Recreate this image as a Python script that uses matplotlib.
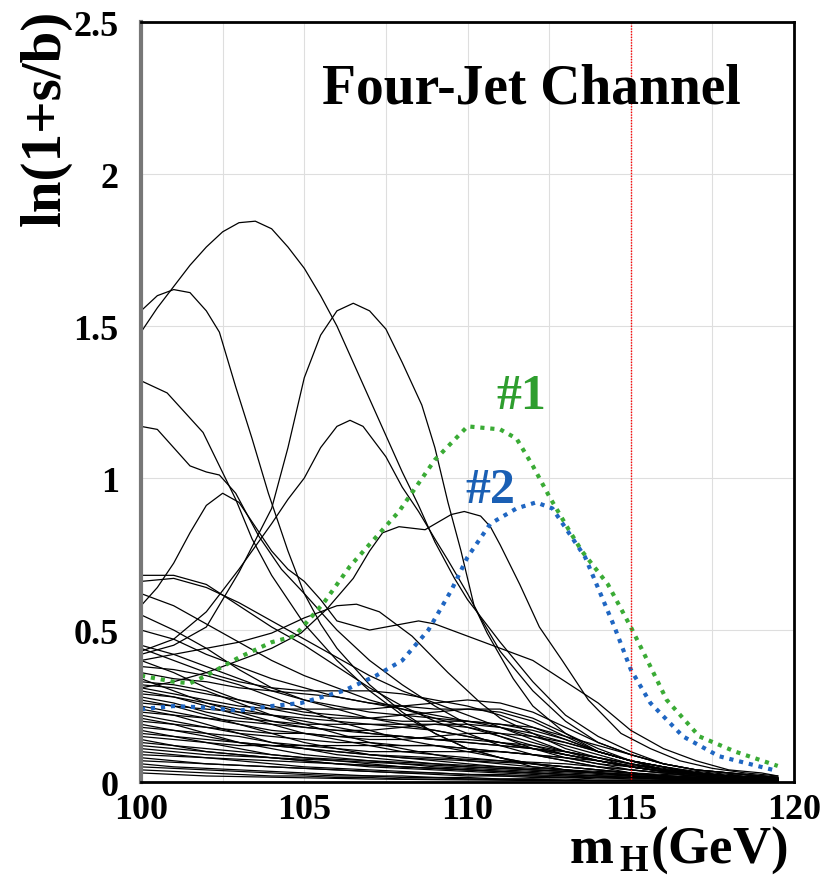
import matplotlib
matplotlib.use("Agg")
import matplotlib.pyplot as plt
import numpy as np

plt.rcParams['font.family'] = ['Liberation Serif', 'DejaVu Serif']
plt.rcParams['font.weight'] = 'bold'
plt.rcParams['axes.labelweight'] = 'bold'
plt.rcParams['mathtext.fontset'] = 'custom'
plt.rcParams['mathtext.rm'] = 'Liberation Serif:bold'
plt.rcParams['mathtext.bf'] = 'Liberation Serif:bold'

# Higgs mass points (GeV) used for the low black curves
mh = [100, 101, 102, 103, 104, 105, 106, 107, 108, 109, 110,
      111, 112, 113, 114, 115, 116, 117, 118, 119, 119.5]

# tall candidate curves, each read at its own mass points
mh_a = [100, 100.5, 101, 101.5, 102, 102.5, 103, 103.5, 104, 104.5, 105, 105.5, 106, 106.5, 107,
        107.5, 108, 108.5, 109, 109.6, 110, 111, 112, 113, 114, 115, 116, 117, 118, 119, 119.5]
lnsb_a = [1.48, 1.56, 1.63, 1.70, 1.76, 1.81, 1.84, 1.845, 1.82, 1.76, 1.69, 1.60, 1.50, 1.38, 1.26,
          1.14, 1.02, 0.91, 0.79, 0.67, 0.60, 0.46, 0.33, 0.22, 0.15, 0.10, 0.06, 0.04, 0.03, 0.02, 0.015]

mh_b = [100, 101, 102, 103, 104, 104.5, 105, 105.5, 106, 106.5, 107, 107.5, 108, 108.6, 109,
        109.4, 109.8, 110.2, 110.6, 111.4, 112, 113, 114, 115, 116, 117, 118, 119, 119.5]
lnsb_b = [0.42, 0.45, 0.51, 0.69, 0.90, 1.10, 1.33, 1.47, 1.55, 1.575, 1.55, 1.49, 1.38, 1.24, 1.10,
          0.92, 0.76, 0.58, 0.49, 0.34, 0.25, 0.16, 0.10, 0.07, 0.04, 0.03, 0.02, 0.015, 0.01]

mh_c = [100, 100.5, 101, 101.5, 102, 102.4, 102.9, 103.4, 103.9, 104.5, 105, 105.5, 106, 107,
        108, 109, 110, 111, 112, 113, 114, 115, 116, 117, 118, 119, 119.5]
lnsb_c = [1.55, 1.60, 1.62, 1.61, 1.55, 1.48, 1.30, 1.13, 0.95, 0.76, 0.62, 0.52, 0.44, 0.32,
          0.23, 0.16, 0.11, 0.08, 0.05, 0.04, 0.03, 0.02, 0.015, 0.01, 0.01, 0.005, 0.005]

mh_d = [100, 100.8, 101.9, 102.4, 102.9, 103.4, 104, 105, 106, 107, 108, 109, 110,
        111, 112, 113, 114, 115, 116, 117, 118, 119, 119.5]
lnsb_d = [1.32, 1.28, 1.15, 1.04, 0.93, 0.80, 0.68, 0.52, 0.40, 0.30, 0.22, 0.16, 0.11,
          0.08, 0.06, 0.04, 0.03, 0.02, 0.015, 0.01, 0.01, 0.005, 0.005]

mh_e = [100, 100.5, 101, 101.5, 102, 102.4, 102.9, 103.6, 104.3, 105, 106, 107, 108, 109, 110,
        111, 112, 113, 114, 115, 116, 117, 118, 119, 119.5]
lnsb_e = [1.17, 1.16, 1.10, 1.04, 1.02, 1.01, 0.95, 0.81, 0.70, 0.62, 0.50, 0.40, 0.32, 0.25, 0.19,
          0.15, 0.11, 0.08, 0.06, 0.04, 0.03, 0.02, 0.015, 0.01, 0.01]

mh_f = [100, 101, 102, 103, 104, 104.5, 105, 105.5, 106, 106.4, 106.8, 107.5, 108, 108.5, 109,
        109.4, 110, 110.4, 111, 112, 113, 114, 115, 116, 117, 118, 119, 119.5]
lnsb_f = [0.43, 0.47, 0.56, 0.70, 0.85, 0.93, 1.00, 1.10, 1.17, 1.19, 1.17, 1.07, 0.97, 0.89, 0.80,
          0.73, 0.62, 0.54, 0.43, 0.30, 0.20, 0.13, 0.09, 0.06, 0.04, 0.03, 0.02, 0.015]

mh_g = [100, 100.5, 101, 101.5, 102, 102.5, 103, 103.5, 104, 104.5, 105, 105.5, 106, 107, 108,
        108.5, 109, 110, 111, 112, 113, 114, 115, 116, 117, 118, 119, 119.5]
lnsb_g = [0.58, 0.64, 0.72, 0.82, 0.91, 0.95, 0.92, 0.84, 0.76, 0.70, 0.66, 0.60, 0.53, 0.50, 0.52,
          0.53, 0.52, 0.48, 0.44, 0.40, 0.33, 0.26, 0.17, 0.11, 0.07, 0.04, 0.03, 0.02]

mh_h = [100, 101, 102, 103, 104, 104.9, 105.7, 106.5, 107, 107.4, 107.9, 108.7, 109.5, 109.9, 110.4,
        110.7, 111, 111.6, 112.2, 112.9, 113.7, 114.7, 115.6, 116.5, 117.5, 118.5, 119.5]
lnsb_h = [0.31, 0.33, 0.36, 0.40, 0.44, 0.49, 0.57, 0.67, 0.76, 0.82, 0.84, 0.83, 0.88, 0.89, 0.875,
          0.84, 0.78, 0.65, 0.51, 0.40, 0.27, 0.16, 0.11, 0.07, 0.045, 0.03, 0.02]

mh_i = [100, 101, 102, 103, 104, 105, 106, 106.6, 107.3, 108.3, 109.4, 110.4, 111, 112,
        113, 114, 115, 116, 117, 118, 119, 119.5]
lnsb_i = [0.40, 0.42, 0.44, 0.46, 0.49, 0.54, 0.58, 0.585, 0.56, 0.48, 0.36, 0.26, 0.21, 0.16,
          0.11, 0.08, 0.05, 0.035, 0.025, 0.02, 0.015, 0.01]

cand_k = [0.68, 0.68, 0.65, 0.58, 0.51, 0.45, 0.38, 0.31, 0.25, 0.20, 0.16, 0.12, 0.09, 0.07, 0.05, 0.03, 0.02, 0.015, 0.01, 0.01, 0.005]
cand_l = [0.66, 0.67, 0.64, 0.59, 0.53, 0.47, 0.41, 0.35, 0.30, 0.26, 0.22, 0.18, 0.14, 0.10, 0.07, 0.05, 0.035, 0.025, 0.02, 0.015, 0.01]

# the dense bundle of low candidates
low_curves = [
    [0.62, 0.58, 0.52, 0.46, 0.40, 0.35, 0.31, 0.27, 0.24, 0.21, 0.18, 0.15, 0.12, 0.09, 0.07, 0.05, 0.035, 0.025, 0.02, 0.015, 0.01],
    [0.55, 0.50, 0.44, 0.37, 0.31, 0.27, 0.24, 0.21, 0.19, 0.17, 0.15, 0.13, 0.11, 0.09, 0.07, 0.05, 0.035, 0.025, 0.02, 0.015, 0.01],
    [0.50, 0.47, 0.42, 0.38, 0.34, 0.31, 0.28, 0.26, 0.25, 0.24, 0.24, 0.23, 0.20, 0.15, 0.10, 0.07, 0.05, 0.03, 0.02, 0.015, 0.01],
    [0.44, 0.40, 0.36, 0.33, 0.31, 0.30, 0.30, 0.30, 0.29, 0.27, 0.25, 0.22, 0.18, 0.14, 0.10, 0.07, 0.05, 0.03, 0.02, 0.015, 0.01],
    [0.45, 0.42, 0.38, 0.34, 0.30, 0.27, 0.25, 0.23, 0.22, 0.21, 0.20, 0.19, 0.17, 0.14, 0.10, 0.07, 0.05, 0.03, 0.02, 0.015, 0.01],
    [0.40, 0.36, 0.31, 0.27, 0.24, 0.22, 0.21, 0.21, 0.22, 0.23, 0.24, 0.24, 0.21, 0.16, 0.11, 0.07, 0.04, 0.03, 0.02, 0.015, 0.01],
    [0.38, 0.37, 0.35, 0.32, 0.28, 0.24, 0.20, 0.17, 0.14, 0.12, 0.10, 0.08, 0.06, 0.05, 0.04, 0.03, 0.02, 0.015, 0.01, 0.01, 0.005],
    [0.36, 0.34, 0.33, 0.31, 0.30, 0.29, 0.28, 0.26, 0.24, 0.22, 0.20, 0.18, 0.15, 0.12, 0.09, 0.06, 0.04, 0.03, 0.02, 0.01, 0.01],
    [0.34, 0.30, 0.26, 0.23, 0.20, 0.18, 0.17, 0.17, 0.18, 0.19, 0.19, 0.18, 0.16, 0.13, 0.10, 0.07, 0.05, 0.03, 0.02, 0.015, 0.01],
    [0.33, 0.32, 0.30, 0.26, 0.22, 0.19, 0.16, 0.13, 0.11, 0.09, 0.07, 0.06, 0.05, 0.04, 0.03, 0.02, 0.015, 0.01, 0.01, 0.005, 0.005],
    [0.32, 0.31, 0.29, 0.27, 0.25, 0.23, 0.22, 0.21, 0.20, 0.20, 0.20, 0.19, 0.18, 0.15, 0.12, 0.09, 0.06, 0.04, 0.03, 0.02, 0.015],
    [0.31, 0.29, 0.27, 0.25, 0.24, 0.24, 0.24, 0.24, 0.25, 0.26, 0.27, 0.26, 0.23, 0.18, 0.13, 0.09, 0.06, 0.04, 0.03, 0.02, 0.015],
    [0.30, 0.28, 0.25, 0.22, 0.19, 0.16, 0.14, 0.12, 0.10, 0.09, 0.08, 0.07, 0.06, 0.05, 0.04, 0.03, 0.02, 0.015, 0.01, 0.01, 0.005],
    [0.29, 0.28, 0.26, 0.24, 0.22, 0.20, 0.18, 0.16, 0.15, 0.14, 0.13, 0.12, 0.11, 0.09, 0.07, 0.05, 0.035, 0.025, 0.02, 0.015, 0.01],
    [0.28, 0.26, 0.23, 0.21, 0.20, 0.19, 0.19, 0.19, 0.18, 0.17, 0.15, 0.13, 0.11, 0.09, 0.07, 0.05, 0.035, 0.025, 0.02, 0.015, 0.01],
    [0.27, 0.25, 0.22, 0.19, 0.16, 0.13, 0.11, 0.09, 0.08, 0.07, 0.06, 0.05, 0.04, 0.035, 0.03, 0.025, 0.02, 0.015, 0.01, 0.01, 0.005],
    [0.26, 0.25, 0.24, 0.23, 0.22, 0.21, 0.20, 0.19, 0.19, 0.19, 0.18, 0.16, 0.13, 0.10, 0.08, 0.06, 0.04, 0.03, 0.02, 0.015, 0.01],
    [0.25, 0.23, 0.21, 0.19, 0.17, 0.16, 0.15, 0.14, 0.14, 0.15, 0.16, 0.16, 0.15, 0.13, 0.10, 0.07, 0.05, 0.035, 0.025, 0.02, 0.015],
    [0.24, 0.22, 0.19, 0.16, 0.13, 0.11, 0.09, 0.08, 0.07, 0.06, 0.05, 0.045, 0.04, 0.035, 0.03, 0.025, 0.02, 0.015, 0.01, 0.01, 0.005],
    [0.23, 0.22, 0.21, 0.20, 0.19, 0.18, 0.17, 0.16, 0.15, 0.14, 0.13, 0.12, 0.11, 0.10, 0.08, 0.06, 0.045, 0.03, 0.02, 0.015, 0.01],
    [0.22, 0.20, 0.18, 0.16, 0.15, 0.14, 0.13, 0.13, 0.12, 0.12, 0.11, 0.10, 0.09, 0.08, 0.07, 0.055, 0.04, 0.03, 0.02, 0.015, 0.01],
    [0.21, 0.19, 0.16, 0.13, 0.11, 0.09, 0.08, 0.07, 0.06, 0.05, 0.045, 0.04, 0.035, 0.03, 0.025, 0.02, 0.015, 0.01, 0.01, 0.005, 0.005],
    [0.20, 0.19, 0.18, 0.17, 0.16, 0.16, 0.15, 0.15, 0.15, 0.14, 0.14, 0.13, 0.12, 0.10, 0.08, 0.06, 0.04, 0.03, 0.02, 0.015, 0.01],
    [0.19, 0.17, 0.15, 0.13, 0.12, 0.11, 0.10, 0.09, 0.085, 0.08, 0.075, 0.07, 0.065, 0.06, 0.05, 0.04, 0.03, 0.02, 0.015, 0.01, 0.01],
    [0.18, 0.17, 0.16, 0.15, 0.13, 0.12, 0.11, 0.10, 0.10, 0.10, 0.10, 0.10, 0.09, 0.08, 0.06, 0.05, 0.035, 0.025, 0.02, 0.015, 0.01],
    [0.17, 0.15, 0.13, 0.11, 0.09, 0.08, 0.07, 0.06, 0.05, 0.045, 0.04, 0.035, 0.03, 0.025, 0.02, 0.02, 0.015, 0.01, 0.01, 0.005, 0.005],
    [0.16, 0.15, 0.14, 0.13, 0.12, 0.11, 0.10, 0.09, 0.08, 0.075, 0.07, 0.065, 0.06, 0.05, 0.04, 0.03, 0.025, 0.02, 0.015, 0.01, 0.01],
    [0.15, 0.14, 0.13, 0.12, 0.12, 0.12, 0.12, 0.12, 0.12, 0.12, 0.11, 0.10, 0.09, 0.07, 0.05, 0.04, 0.03, 0.02, 0.015, 0.01, 0.01],
    [0.14, 0.12, 0.10, 0.09, 0.08, 0.07, 0.06, 0.055, 0.05, 0.045, 0.04, 0.035, 0.03, 0.025, 0.02, 0.015, 0.01, 0.01, 0.005, 0.005, 0.005],
    [0.13, 0.12, 0.11, 0.10, 0.09, 0.08, 0.075, 0.07, 0.065, 0.06, 0.055, 0.05, 0.045, 0.04, 0.035, 0.03, 0.02, 0.015, 0.01, 0.01, 0.005],
    [0.12, 0.11, 0.10, 0.09, 0.08, 0.07, 0.06, 0.05, 0.045, 0.04, 0.035, 0.03, 0.025, 0.02, 0.015, 0.015, 0.01, 0.01, 0.005, 0.005, 0.005],
    [0.11, 0.10, 0.09, 0.085, 0.08, 0.075, 0.07, 0.065, 0.06, 0.055, 0.05, 0.045, 0.04, 0.035, 0.03, 0.025, 0.02, 0.015, 0.01, 0.01, 0.005],
    [0.10, 0.09, 0.08, 0.07, 0.06, 0.05, 0.045, 0.04, 0.035, 0.03, 0.025, 0.02, 0.02, 0.015, 0.015, 0.01, 0.01, 0.005, 0.005, 0.005, 0.005],
    [0.09, 0.085, 0.08, 0.075, 0.07, 0.065, 0.06, 0.055, 0.05, 0.045, 0.04, 0.035, 0.03, 0.025, 0.02, 0.015, 0.015, 0.01, 0.01, 0.005, 0.005],
    [0.08, 0.07, 0.06, 0.055, 0.05, 0.045, 0.04, 0.035, 0.03, 0.025, 0.02, 0.02, 0.015, 0.015, 0.01, 0.01, 0.01, 0.005, 0.005, 0.005, 0.005],
    [0.07, 0.065, 0.06, 0.055, 0.05, 0.045, 0.04, 0.035, 0.03, 0.03, 0.025, 0.025, 0.02, 0.02, 0.015, 0.015, 0.01, 0.01, 0.005, 0.005, 0.005],
    [0.06, 0.05, 0.045, 0.04, 0.035, 0.03, 0.025, 0.02, 0.02, 0.015, 0.015, 0.01, 0.01, 0.01, 0.005, 0.005, 0.005, 0.005, 0.005, 0.003, 0.003],
    [0.05, 0.045, 0.04, 0.035, 0.03, 0.025, 0.02, 0.02, 0.015, 0.015, 0.01, 0.01, 0.01, 0.005, 0.005, 0.005, 0.005, 0.005, 0.003, 0.003, 0.003],
    [0.04, 0.035, 0.03, 0.025, 0.02, 0.02, 0.015, 0.015, 0.01, 0.01, 0.01, 0.008, 0.008, 0.006, 0.005, 0.005, 0.004, 0.004, 0.003, 0.003, 0.003],
    [0.03, 0.025, 0.02, 0.018, 0.016, 0.014, 0.012, 0.01, 0.009, 0.008, 0.007, 0.006, 0.005, 0.005, 0.004, 0.004, 0.003, 0.003, 0.003, 0.002, 0.002],
]

# candidate #1 (green) and #2 (blue)
mh_1 = [100, 101, 101.5, 102, 103, 104, 104.7, 105.6, 106.4, 107.4, 107.9, 109, 110, 111,
        111.5, 112, 112.5, 113.1, 113.5, 114.3, 115, 115.6, 116.1, 117.1, 118.2, 119.5]
lnsb_1 = [0.35, 0.33, 0.325, 0.35, 0.41, 0.46, 0.48, 0.59, 0.71, 0.83, 0.89, 1.06, 1.17, 1.16,
          1.13, 1.04, 0.94, 0.83, 0.76, 0.65, 0.51, 0.38, 0.27, 0.15, 0.10, 0.053]
mh_2 = [100, 101, 102, 103, 104, 104.9, 106.2, 107.2, 108, 108.8, 109.5, 110, 110.7,
        111.5, 112.1, 112.6, 113.6, 114.5, 115, 115.6, 116.6, 117.7, 119.5]
lnsb_2 = [0.24, 0.25, 0.245, 0.235, 0.25, 0.26, 0.30, 0.35, 0.40, 0.50, 0.63, 0.74, 0.85,
          0.90, 0.92, 0.90, 0.74, 0.51, 0.37, 0.26, 0.15, 0.085, 0.036]

x_ticks = [100, 105, 110, 115, 120]
y_ticks = [0, 0.5, 1, 1.5, 2, 2.5]
y_tick_labels = ['0', '0.5', '1', '1.5', '2', '2.5']

fig = plt.figure(figsize=(8.32, 8.87), dpi=100)
ax = fig.add_axes([0.1695, 0.1172, 0.7849, 0.8568])

tall = [(mh_a, lnsb_a), (mh_b, lnsb_b), (mh_c, lnsb_c), (mh_d, lnsb_d), (mh_e, lnsb_e),
        (mh_f, lnsb_f), (mh_g, lnsb_g), (mh_h, lnsb_h), (mh_i, lnsb_i)]
for xs, ys in tall:
    ax.plot(xs, ys, color='black', lw=0.9)
for c in [cand_k, cand_l] + low_curves:
    ax.plot(mh, c, color='black', lw=0.9)

ax.plot(mh_1, lnsb_1, color='#3aab35', lw=3, linestyle=(0, (1, 1.4)))
ax.plot(mh_2, lnsb_2, color='#1f66c2', lw=3, linestyle=(0, (1, 1.4)))

ax.axvline(115, color='red', lw=1, linestyle=(0, (1, 1)))

ax.set_xlim(100, 120)
ax.set_ylim(0, 2.5)
ax.set_xticks(x_ticks)
ax.set_yticks(y_ticks)
ax.set_yticklabels(y_tick_labels)
ax.set_xticks(np.arange(100, 120.1, 2.5), minor=True)
ax.grid(True, which='both', axis='x', color='#dedede', lw=0.8)
ax.grid(True, which='major', axis='y', color='#dedede', lw=0.8)
ax.tick_params(which='both', length=0, labelsize=26)
ax.tick_params(axis='x', pad=8)
ax.tick_params(axis='y', pad=16)

for side in ['top', 'right', 'bottom']:
    ax.spines[side].set_linewidth(2)
    ax.spines[side].set_color('black')
ax.spines['left'].set_linewidth(3)
ax.spines['left'].set_color('#777777')

ax.set_ylabel('ln(1+s/b)', fontsize=41, fontweight='bold', loc='top')
ax.yaxis.set_label_coords(-0.106, 1.017)
ax.set_xlabel(r'm$_{\,\mathrm{H}}$(GeV)', fontsize=38, fontweight='bold', loc='right')
ax.xaxis.set_label_coords(0.99, -0.055)

ax.text(0.597, 0.912, 'Four-Jet Channel', transform=ax.transAxes,
        fontsize=40, ha='center', va='center')
ax.text(111.66, 1.27, '#1', color='#2e9e2e', fontsize=36, ha='center', va='center')
ax.text(110.7, 0.96, '#2', color='#1a5fb4', fontsize=36, ha='center', va='center')

fig.savefig('out.png', dpi=100)
